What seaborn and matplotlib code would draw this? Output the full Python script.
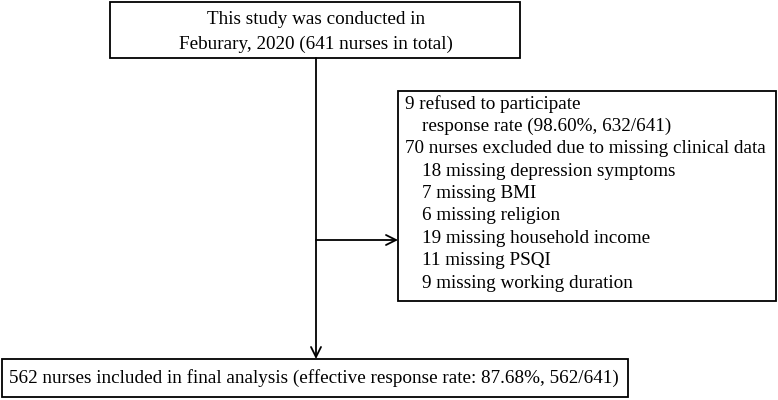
import seaborn as sns
import matplotlib.pyplot as plt
from matplotlib.patches import Rectangle

# flowchart text
top_lines = ["This study was conducted in", "Feburary, 2020 (641 nurses in total)"]
excl_lines = [
    "9 refused to participate",
    "   response rate (98.60%, 632/641)",
    "70 nurses excluded due to missing clinical data",
    "   18 missing depression symptoms",
    "   7 missing BMI",
    "   6 missing religion",
    "   19 missing household income",
    "   11 missing PSQI",
    "   9 missing working duration",
]
final_line = "562 nurses included in final analysis (effective response rate: 87.68%, 562/641)"

sns.set_theme(style="white")
plt.rcParams['font.family'] = ['Liberation Serif', 'DejaVu Serif']

fig = plt.figure(figsize=(7.78, 4.0), dpi=100)
ax = fig.add_axes([0, 0, 1, 1])
ax.set_xlim(0, 778)
ax.set_ylim(400, 0)
ax.axis('off')

fs = 13.8
lw = 1.3

# top box
ax.add_patch(Rectangle((110, 2), 410, 56, fill=False, lw=lw, ec='black'))
for i, s in enumerate(top_lines):
    ax.text(316, 20 + i * 24, s, ha='center', va='center', fontsize=fs, color='black')

# exclusion box
ax.add_patch(Rectangle((398, 91), 378, 210, fill=False, lw=lw, ec='black'))
for i, s in enumerate(excl_lines):
    indent = 17 if s.startswith(' ') else 0
    ax.text(405 + indent, 104 + i * 22.4, s.strip(), ha='left', va='center',
            fontsize=fs, color='black')

# final box
ax.add_patch(Rectangle((2, 359), 626, 38, fill=False, lw=lw, ec='black'))
ax.text(314, 378, final_line, ha='center', va='center', fontsize=fs, color='black')

# connectors
ax.annotate('', xy=(316, 359), xytext=(316, 58),
            arrowprops=dict(arrowstyle='->', lw=lw, color='black', mutation_scale=18,
                            shrinkA=0, shrinkB=0))
ax.annotate('', xy=(398, 240), xytext=(316, 240),
            arrowprops=dict(arrowstyle='->', lw=lw, color='black', mutation_scale=18,
                            shrinkA=0, shrinkB=0))

fig.savefig('out.png', dpi=100)
